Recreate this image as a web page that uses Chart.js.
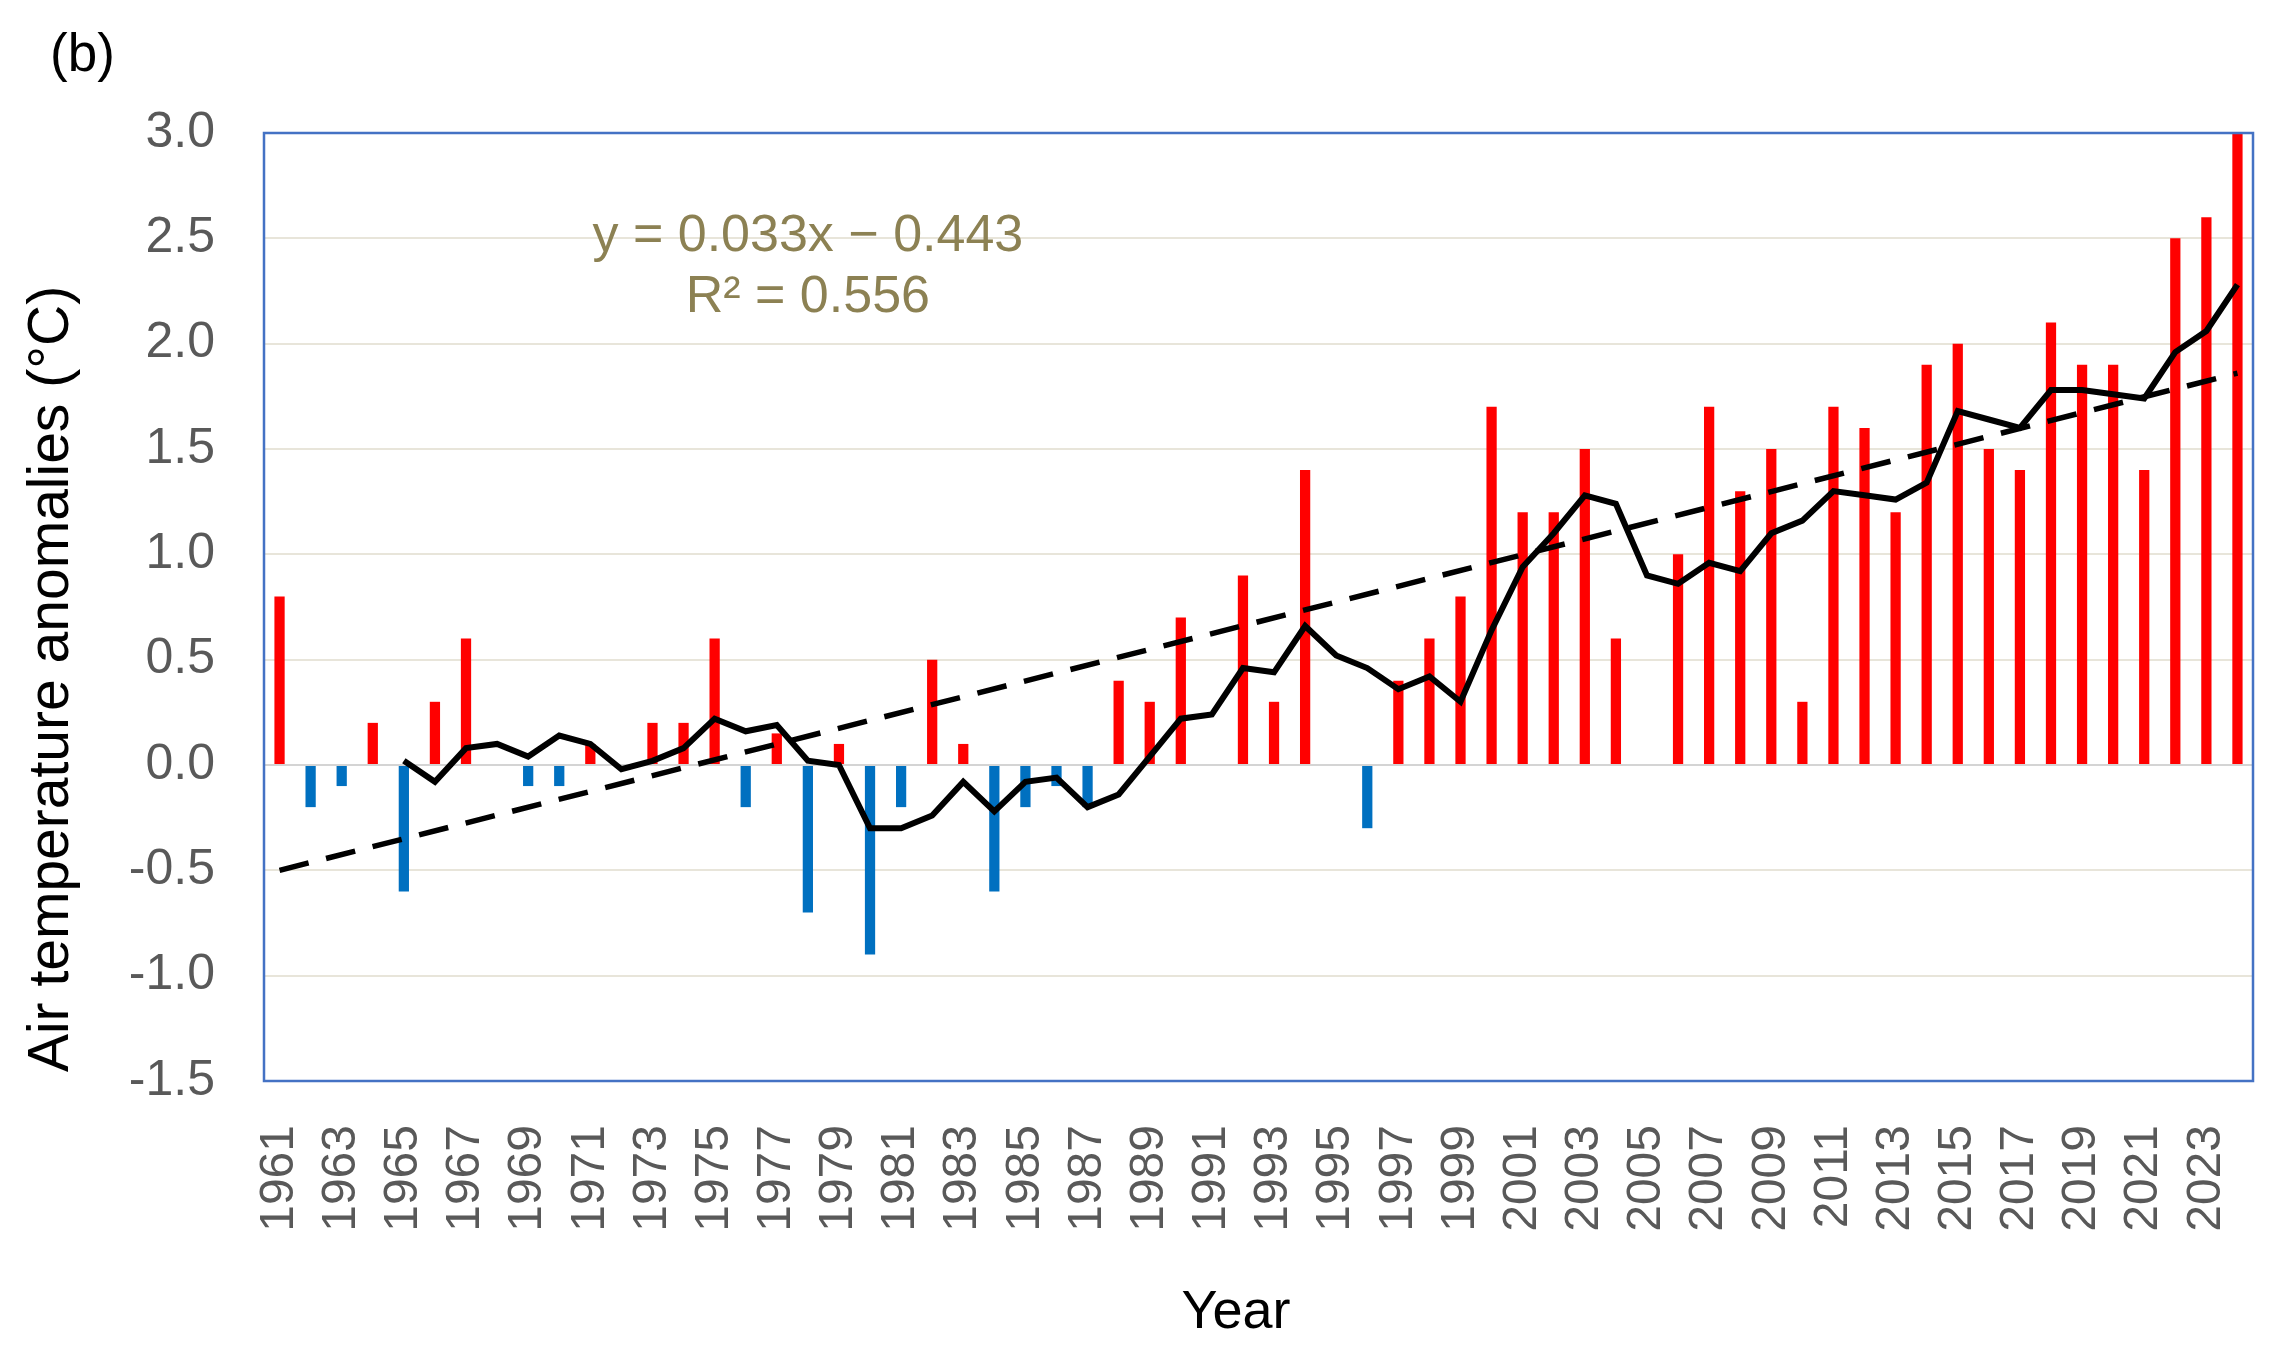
<!DOCTYPE html>
<html>
<head>
<meta charset="utf-8">
<script src="https://cdn.jsdelivr.net/npm/chart.js@4"></script>
<style>
  body { margin: 0; background: #fff; }
  canvas { display: block; }
</style>
</head>
<body>
<canvas id="myChart" width="2275" height="1361"></canvas>
<script>
const years = [
    '1961', '1962', '1963', '1964', '1965', '1966', '1967', '1968', '1969', '1970',
    '1971', '1972', '1973', '1974', '1975', '1976', '1977', '1978', '1979', '1980',
    '1981', '1982', '1983', '1984', '1985', '1986', '1987', '1988', '1989', '1990',
    '1991', '1992', '1993', '1994', '1995', '1996', '1997', '1998', '1999', '2000',
    '2001', '2002', '2003', '2004', '2005', '2006', '2007', '2008', '2009', '2010',
    '2011', '2012', '2013', '2014', '2015', '2016', '2017', '2018', '2019', '2020',
    '2021', '2022', '2023', '2024'
];

// yearly anomalies (bars)
const anomalies = [
    0.8, -0.2, -0.1, 0.2, -0.6, 0.3, 0.6, 0, -0.1, -0.1,
    0.1, 0, 0.2, 0.2, 0.6, -0.2, 0.15, -0.7, 0.1, -0.9,
    -0.2, 0.5, 0.1, -0.6, -0.2, -0.1, -0.2, 0.4, 0.3, 0.7,
    0, 0.9, 0.3, 1.4, 0, -0.3, 0.4, 0.6, 0.8, 1.7,
    1.2, 1.2, 1.5, 0.6, 0, 1.0, 1.7, 1.3, 1.5, 0.3,
    1.7, 1.6, 1.2, 1.9, 2.0, 1.5, 1.4, 2.1, 1.9, 1.9,
    1.4, 2.5, 2.6, 3.0
];

// 5-year moving average (black line), starts 1965
const movingAvg = [
    null, null, null, null,
    0.02, -0.08, 0.08, 0.10, 0.04, 0.14, 0.10, -0.02, 0.02, 0.08,
    0.22, 0.16, 0.19, 0.02, 0.0, -0.30, -0.30, -0.24, -0.08, -0.22,
    -0.08, -0.06, -0.20, -0.14, 0.04, 0.22, 0.24, 0.46, 0.44, 0.66,
    0.52, 0.46, 0.36, 0.42, 0.30, 0.64, 0.94, 1.10, 1.28, 1.24,
    0.90, 0.86, 0.96, 0.92, 1.10, 1.16, 1.30, 1.28, 1.26, 1.34,
    1.68, 1.64, 1.60, 1.78, 1.78, 1.76, 1.74, 1.96, 2.06, 2.28
];

// linear trend, first and last year
const trendEnds = [-0.50, 1.86];

const yTicks = [-1.5, -1.0, -0.5, 0.0, 0.5, 1.0, 1.5, 2.0, 2.5, 3.0];

const equationLines = ['y = 0.033x \u2212 0.443', 'R\u00b2 = 0.556'];

const trend = years.map((y, i) => i === 0 ? trendEnds[0] : (i === years.length - 1 ? trendEnds[1] : null));

const FONT = '"Liberation Sans", Arial, sans-serif';

const extras = {
    id: 'extras',
    afterDraw(chart) {
        const ctx = chart.ctx;
        const a = chart.chartArea;
        const xs = chart.scales.x;
        const ys = chart.scales.y;
        ctx.save();
        // plot frame
        ctx.strokeStyle = '#4472C4';
        ctx.lineWidth = 2.5;
        ctx.strokeRect(a.left, a.top, a.right - a.left, a.bottom - a.top);

        // trendline equation
        ctx.fillStyle = '#8c8153';
        ctx.font = '52px ' + FONT;
        ctx.textAlign = 'center';
        ctx.textBaseline = 'middle';
        const ex = xs.getPixelForValue(17);
        ctx.fillText(equationLines[0], ex, ys.getPixelForValue(2.51));
        ctx.fillText(equationLines[1], ex, ys.getPixelForValue(2.22));

        // panel letter
        ctx.fillStyle = '#000';
        ctx.font = '53px ' + FONT;
        ctx.textAlign = 'left';
        ctx.fillText('(b)', 50, 56);

        // x axis title
        ctx.textAlign = 'center';
        ctx.font = '54px ' + FONT;
        ctx.fillText('Year', 1236, 1313);

        // y axis title
        ctx.translate(52, 679);
        ctx.rotate(-Math.PI / 2);
        ctx.font = '57px ' + FONT;
        ctx.fillText('Air temperature anomalies (\u00b0C)', 0, 0);
        ctx.restore();
    }
};

const data = {
    labels: years,
    datasets: [
        {
            type: 'line',
            label: '5-year moving average',
            data: movingAvg,
            borderColor: '#000000',
            borderWidth: 6,
            pointRadius: 0,
            tension: 0,
            order: 1
        },
        {
            type: 'line',
            label: 'Linear trend',
            data: trend,
            borderColor: '#000000',
            borderWidth: 5.5,
            borderDash: [30, 18],
            pointRadius: 0,
            spanGaps: true,
            order: 2
        },
        {
            type: 'bar',
            label: 'Anomaly',
            data: anomalies,
            backgroundColor: anomalies.map(v => v >= 0 ? '#FF0000' : '#0070C0'),
            barPercentage: 0.33,
            categoryPercentage: 1.0,
            order: 3
        }
    ]
};

const config = {
    type: 'bar',
    data: data,
    options: {
        responsive: false,
        animation: false,
        devicePixelRatio: 1,
        layout: {
            padding: { left: 0, top: 133, right: 22, bottom: 0 }
        },
        plugins: {
            legend: { display: false },
            tooltip: { enabled: false }
        },
        scales: {
            x: {
                offset: true,
                grid: { display: false, drawTicks: false },
                border: { display: false },
                ticks: {
                    autoSkip: false,
                    maxRotation: 90,
                    minRotation: 90,
                    padding: 44,
                    color: '#595959',
                    font: { family: FONT, size: 48 },
                    callback: function (val, index) {
                        return index % 2 === 0 ? this.getLabelForValue(val) : '';
                    }
                },
                afterFit(scale) {
                    scale.height = 280;
                    scale.paddingLeft = 0;
                    scale.paddingRight = 0;
                }
            },
            y: {
                min: -1.5,
                max: 3.0,
                afterBuildTicks(scale) {
                    scale.ticks = yTicks.map(v => ({ value: v }));
                },
                grid: {
                    drawTicks: false,
                    lineWidth: 2,
                    color: ctx => ctx.tick && ctx.tick.value === 0 ? '#d4d4d4' : '#e8e5da'
                },
                border: { display: false },
                ticks: {
                    padding: 49,
                    color: '#595959',
                    font: { family: FONT, size: 50 },
                    callback: v => v.toFixed(1)
                },
                afterFit(scale) {
                    scale.width = 264;
                    scale.paddingTop = 0;
                    scale.paddingBottom = 0;
                }
            }
        }
    },
    plugins: [extras]
};

const myChart = new Chart(
    document.getElementById('myChart'),
    config
);
</script>
</body>
</html>
